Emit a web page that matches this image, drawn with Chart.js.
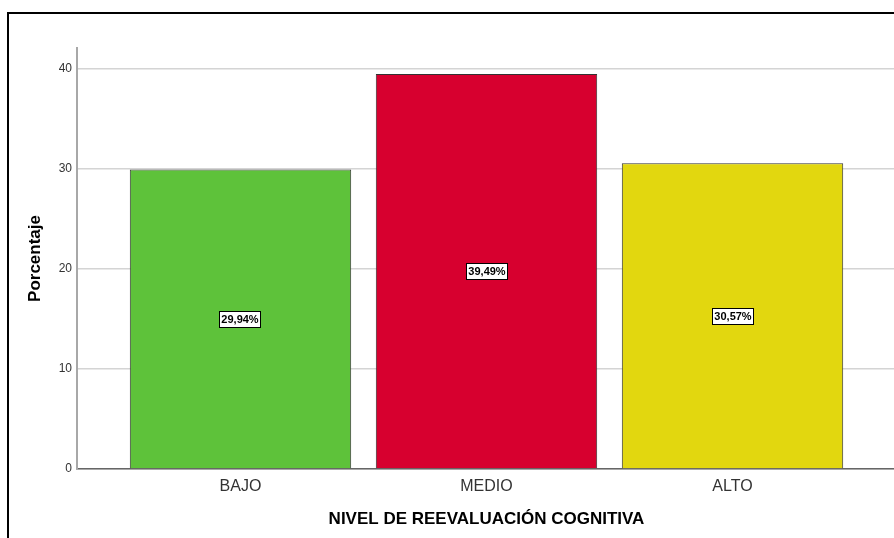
<!DOCTYPE html>
<html>
<head>
<meta charset="utf-8">
<script src="https://cdn.jsdelivr.net/npm/chart.js@4.4.1/dist/chart.umd.min.js"></script>
<style>
  html, body { margin: 0; padding: 0; background: #fff; }
  #wrap { position: relative; width: 894px; height: 538px; overflow: hidden; }
  #frame { position: absolute; left: 7px; top: 12px; width: 1000px; height: 1000px;
           border-left: 2px solid #000; border-top: 2px solid #000; pointer-events: none; }
  #cv { position: absolute; left: 0; top: 0; }
</style>
</head>
<body>
<div id="wrap">
  <canvas id="cv" width="910" height="538"></canvas>
  <div id="frame"></div>
</div>
<script>
var categories = ['BAJO', 'MEDIO', 'ALTO'],
    percentages = [29.94, 39.49, 30.57],
    barColors = ['#5ec23a', '#d7002f', '#e2d70f'],
    yTicks = [0, 10, 20, 30, 40];

var fontFamily = '"Liberation Sans", Arial, sans-serif';

// white boxed labels in the middle of each bar
var boxLabels = {
    id: 'boxLabels',
    afterDatasetsDraw: function(chart) {
        var ctx = chart.ctx,
            meta = chart.getDatasetMeta(0);
        ctx.save();
        ctx.font = 'bold 11px ' + fontFamily;
        ctx.textAlign = 'center';
        ctx.textBaseline = 'middle';
        meta.data.forEach(function(bar, i) {
            var txt = percentages[i].toFixed(2).replace('.', ',') + '%',
                w = ctx.measureText(txt).width + 4,
                h = 16,
                cx = Math.round(bar.x),
                cy = Math.round((bar.y + bar.base) / 2);
            ctx.fillStyle = '#fff';
            ctx.fillRect(cx - w / 2, cy - h / 2, w, h);
            ctx.strokeStyle = '#000';
            ctx.lineWidth = 1;
            ctx.strokeRect(Math.round(cx - w / 2) + 0.5, cy - h / 2 + 0.5, Math.round(w), h);
            ctx.fillStyle = '#000';
            ctx.fillText(txt, cx, cy + 1);
        });
        ctx.restore();
    }
};

new Chart(document.getElementById('cv').getContext('2d'), {
    type: 'bar',
    data: {
        datasets: [{
            data: percentages.map(function(v, i) { return { x: i, y: v }; }),
            backgroundColor: barColors,
            borderColor: '#333',
            borderWidth: 1,
            categoryPercentage: 1,
            barPercentage: 0.9
        }]
    },
    options: {
        responsive: false,
        animation: false,
        layout: { padding: { left: 0, top: 48, right: 14, bottom: 0 } },
        plugins: { legend: { display: false }, tooltip: { enabled: false } },
        scales: {
            x: {
                type: 'linear',
                offset: false,
                min: -0.6646,
                max: 2.6646,
                afterBuildTicks: function(axis) {
                    axis.ticks = categories.map(function(c, i) { return { value: i }; });
                },
                afterFit: function(axis) { axis.height = 69; },
                grid: { display: false, drawTicks: false, offset: false },
                border: { display: true, color: '#666', width: 1.5 },
                ticks: {
                    padding: 8,
                    color: '#333',
                    font: { family: fontFamily, size: 16 },
                    callback: function(v) { return categories[v]; }
                },
                title: {
                    display: true,
                    text: 'NIVEL DE REEVALUACIÓN COGNITIVA',
                    color: '#000',
                    font: { family: fontFamily, size: 17, weight: 'bold' },
                    padding: { top: 0, bottom: 8 }
                }
            },
            y: {
                min: 0,
                max: 42.1,
                afterBuildTicks: function(axis) {
                    axis.ticks = yTicks.map(function(v) { return { value: v }; });
                },
                afterFit: function(axis) { axis.width = 77; },
                grid: { color: '#d4d4d4', lineWidth: 1.5, drawTicks: false },
                border: { display: true, color: '#a8a8a8', width: 2 },
                ticks: {
                    padding: 5,
                    color: '#333',
                    font: { family: fontFamily, size: 12 }
                },
                title: {
                    display: true,
                    text: 'Porcentaje',
                    color: '#000',
                    font: { family: fontFamily, size: 17, weight: 'bold' },
                    padding: { top: 25, bottom: 0 }
                }
            }
        }
    },
    plugins: [boxLabels]
});
</script>
</body>
</html>
